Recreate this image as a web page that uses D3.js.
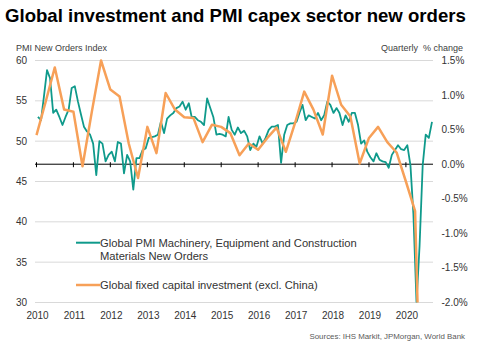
<!DOCTYPE html>
<html>
<head>
<meta charset="utf-8">
<script src="https://cdn.jsdelivr.net/npm/d3@7"></script>
<style>
  body { margin: 0; background: #fff; }
  svg { font-family: "Liberation Sans", Arial, sans-serif; }
</style>
</head>
<body>
<svg id="chart" width="478" height="353"></svg>
<script>
// monthly PMI capex new orders, Jan 2010 - Sep 2020
const pmiValues = [
  53.0, 52.6, 55.5, 58.8, 57.8, 53.5, 53.9, 53.0, 52.0, 53.0, 53.9, 56.6,
  56.8, 54.9, 53.4, 51.8, 51.2, 50.8, 49.7, 45.8, 50.0, 49.7, 47.5, 48.3,
  48.7, 47.5, 49.9, 49.7, 46.0, 48.3, 47.5, 44.0, 47.9, 47.9, 48.9, 49.1,
  50.4, 50.5, 50.6, 50.8, 52.4, 51.0, 52.8, 53.2, 53.5, 54.1, 54.3, 54.9,
  53.9, 54.7, 53.0, 53.0, 52.6, 52.4, 52.0, 55.3, 54.1, 53.0, 50.8, 50.9,
  50.8, 50.6, 53.0, 51.4, 50.8, 51.7, 51.0, 51.3, 50.6, 48.9, 49.7, 49.3,
  50.6, 49.7, 50.4, 51.4, 51.8, 51.8, 52.0, 47.3, 50.8, 52.0, 52.2, 52.2,
  52.4, 53.6, 54.5, 52.6, 53.2, 53.0, 52.8, 53.5, 52.6, 53.2, 54.9, 54.5,
  53.5, 54.1, 53.5, 52.0, 53.2, 52.4, 53.5, 53.5, 52.0, 49.7, 50.1, 48.7,
  48.0, 47.5, 48.5, 47.7, 47.5, 47.4, 46.7, 48.3, 48.9, 49.5, 49.0, 48.9,
  49.5, 47.0, 41.0, 30.0, 37.0, 47.0, 50.8, 50.4, 52.4
];
const pmiMonths = d3.timeMonth.range(new Date(2010, 0, 1), new Date(2020, 9, 1))
  .map(d => new Date(d.getFullYear(), d.getMonth(), 15));

// quarterly fixed investment % change, Q4 2009 - Q2 2020 (plotted at quarter end)
const investValues = [
  0.42, 0.90, 1.40, 0.79, 0.76, -0.03, 0.75, 1.50, 1.08, 0.98, 0.30,
  -0.20, 0.54, 0.16, 1.03, 0.79, 0.68, 0.67, 0.32, 0.57, 0.54, 0.45,
  0.13, 0.30, 0.21, 0.38, 0.53, 0.18, 0.60, 1.05, 0.79, 0.43, 1.28,
  0.86, 0.69, 0.01, 0.38, 0.54, 0.32, 0.17, -0.25, -0.68, -5.7
];
const investQuarters = d3.timeMonth.every(3).range(new Date(2010, 0, 1), new Date(2020, 7, 1));

const yearTicks = [2010, 2011, 2012, 2013, 2014, 2015, 2016, 2017, 2018, 2019, 2020];
const leftTicks = [30, 35, 40, 45, 50, 55, 60];
const rightTicks = [-2.0, -1.5, -1.0, -0.5, 0.0, 0.5, 1.0, 1.5];

const green = '#0f9a8b';
const orange = '#f7a058';

const svg = d3.select('#chart');
const plotLeft = 35;
const plotRight = 433;
const plotTop = 60.5;
const plotBottom = 302.5;

const x = d3.scaleTime()
  .domain([new Date(2010, 0, 1), new Date(2020, 0, 1)])
  .range([36.5, 405.9]);
const yLeft = d3.scaleLinear().domain([30, 60]).range([plotBottom, plotTop]);
const yRight = d3.scaleLinear().domain([-2, 1.5]).range([plotBottom, plotTop]);

svg.append('defs').append('clipPath').attr('id', 'plot-clip')
  .append('rect')
  .attr('x', plotLeft)
  .attr('y', plotTop - 2)
  .attr('width', plotRight - plotLeft)
  .attr('height', plotBottom - plotTop + 2);

// title
svg.append('text')
  .attr('x', 5)
  .attr('y', 22)
  .attr('font-size', 18.6)
  .attr('font-weight', 'bold')
  .attr('fill', '#000')
  .text('Global investment and PMI capex sector new orders');

// gridlines on the left scale
svg.append('g')
  .selectAll('line')
  .data(leftTicks)
  .enter()
  .append('line')
  .attr('x1', plotLeft)
  .attr('x2', plotRight)
  .attr('y1', d => yLeft(d))
  .attr('y2', d => yLeft(d))
  .attr('stroke', '#d9d9d9')
  .attr('stroke-width', 1);

svg.append('g')
  .selectAll('text')
  .data(leftTicks)
  .enter()
  .append('text')
  .attr('x', 27)
  .attr('y', d => yLeft(d) + 3.5)
  .attr('text-anchor', 'end')
  .attr('font-size', 10)
  .attr('fill', '#333')
  .text(d => d);

svg.append('g')
  .selectAll('text')
  .data(rightTicks)
  .enter()
  .append('text')
  .attr('x', 441.5)
  .attr('y', d => yRight(d) + 3.5)
  .attr('font-size', 10)
  .attr('fill', '#333')
  .text(d => d.toFixed(1) + '%');

svg.append('text')
  .attr('x', 16)
  .attr('y', 51)
  .attr('font-size', 9)
  .attr('fill', '#404040')
  .text('PMI New Orders Index');

svg.append('text')
  .attr('x', 463)
  .attr('y', 50.5)
  .attr('text-anchor', 'end')
  .attr('font-size', 9)
  .attr('fill', '#404040')
  .attr('xml:space', 'preserve')
  .text('Quarterly  % change');

// x axis sits on the 0% line
const axisY = yRight(0);
svg.append('line')
  .attr('x1', plotLeft)
  .attr('x2', plotRight)
  .attr('y1', axisY)
  .attr('y2', axisY)
  .attr('stroke', '#000')
  .attr('stroke-width', 1);

svg.append('g')
  .selectAll('line')
  .data(yearTicks)
  .enter()
  .append('line')
  .attr('x1', d => x(new Date(d, 0, 1)))
  .attr('x2', d => x(new Date(d, 0, 1)))
  .attr('y1', axisY - 2)
  .attr('y2', axisY + 3)
  .attr('stroke', '#000');

svg.append('g')
  .selectAll('text')
  .data(yearTicks)
  .enter()
  .append('text')
  .attr('x', d => x(new Date(d, 0, 1)) + 1)
  .attr('y', 318.5)
  .attr('text-anchor', 'middle')
  .attr('font-size', 10)
  .attr('fill', '#333')
  .text(d => d);

// series
const lines = svg.append('g').attr('clip-path', 'url(#plot-clip)');

const pmiLine = d3.line()
  .x((d, i) => x(pmiMonths[i]))
  .y(d => yLeft(d));

const investLine = d3.line()
  .x((d, i) => x(investQuarters[i]))
  .y(d => yRight(d));

lines.append('path')
  .datum(pmiValues)
  .attr('d', pmiLine)
  .attr('fill', 'none')
  .attr('stroke', green)
  .attr('stroke-width', 1.8)
  .attr('stroke-linejoin', 'round');

lines.append('path')
  .datum(investValues)
  .attr('d', investLine)
  .attr('fill', 'none')
  .attr('stroke', orange)
  .attr('stroke-width', 2.5)
  .attr('stroke-linejoin', 'round');

// legend
const legend = svg.append('g');
legend.append('line')
  .attr('x1', 76).attr('x2', 100)
  .attr('y1', 242.7).attr('y2', 242.7)
  .attr('stroke', green).attr('stroke-width', 2);
legend.append('text')
  .attr('x', 100).attr('y', 246.5)
  .attr('font-size', 11.2).attr('fill', '#333')
  .text('Global PMI Machinery, Equipment and Construction');
legend.append('text')
  .attr('x', 100).attr('y', 260)
  .attr('font-size', 11.2).attr('fill', '#333')
  .text('Materials New Orders');
legend.append('line')
  .attr('x1', 76).attr('x2', 100)
  .attr('y1', 285).attr('y2', 285)
  .attr('stroke', orange).attr('stroke-width', 2.5);
legend.append('text')
  .attr('x', 100).attr('y', 288.7)
  .attr('font-size', 11.2).attr('fill', '#333')
  .text('Global fixed capital investment (excl. China)');

svg.append('text')
  .attr('x', 465)
  .attr('y', 339)
  .attr('text-anchor', 'end')
  .attr('font-size', 7.9)
  .attr('fill', '#595959')
  .text('Sources: IHS Markit, JPMorgan, World Bank');
</script>
</body>
</html>
